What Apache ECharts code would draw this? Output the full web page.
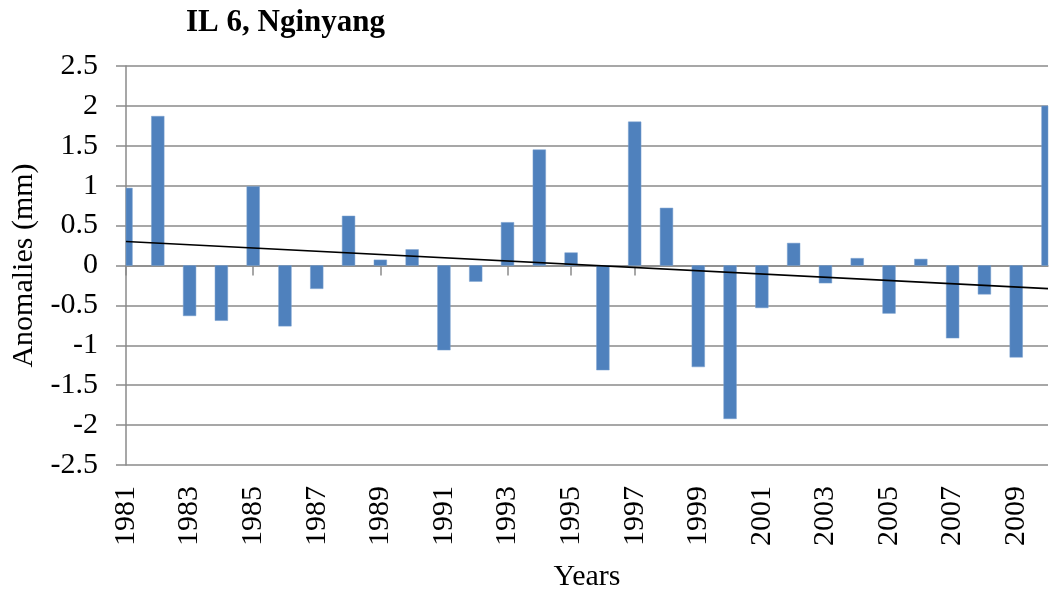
<!DOCTYPE html>
<html>
<head>
<meta charset="utf-8">
<script src="https://cdn.jsdelivr.net/npm/echarts@6/dist/echarts.min.js"></script>
<style>
  html, body { margin: 0; padding: 0; background: #fff; }
  #chart { width: 1056px; height: 594px; }
</style>
</head>
<body>
<div id="chart"></div>
<script>
const years = ['1981','1982','1983','1984','1985','1986','1987','1988','1989','1990',
  '1991','1992','1993','1994','1995','1996','1997','1998','1999','2000',
  '2001','2002','2003','2004','2005','2006','2007','2008','2009','2010']
const anomalies = [0.97, 1.87, -0.63, -0.69, 0.99, -0.76, -0.29, 0.62, 0.07, 0.20,
  -1.06, -0.20, 0.54, 1.45, 0.16, -1.31, 1.80, 0.72, -1.27, -1.92,
  -0.53, 0.28, -0.22, 0.09, -0.60, 0.08, -0.91, -0.36, -1.15, 2.00]
// linear trend, read at both ends
const trendEnds = [['1981', 0.30], ['2010', -0.29]]
const yTicks = [-2.5, 2.5, 0.5]

const FONT = "'Liberation Serif', 'Times New Roman', serif"
const GRAY = '#8a8a8a'
const BAR_W = 12.7

// bars sit on the tick marks, so the first and last one get cut at the plot edge
function renderBar(params, api) {
  const base = api.coord([api.value(0), 0])
  const tip = api.coord([api.value(0), api.value(1)])
  const rect = {
    x: base[0] - BAR_W / 2,
    y: Math.min(base[1], tip[1]),
    width: BAR_W,
    height: Math.abs(base[1] - tip[1])
  }
  const cs = params.coordSys
  const shape = echarts.graphic.clipRectByRect(rect, { x: cs.x, y: cs.y, width: cs.width, height: cs.height })
  return shape && { type: 'rect', shape, style: api.style() }
}

const chart = echarts.init(document.getElementById('chart'))
chart.setOption({
  animation: false,
  title: {
    text: 'IL 6, Nginyang',
    left: 181, top: 2,
    textStyle: { fontFamily: FONT, fontSize: 31, fontWeight: 'bold', color: '#000' }
  },
  grid: { left: 126, right: 8, top: 66, bottom: 129, containLabel: false, outerBoundsMode: 'none' },
  xAxis: [{
    type: 'category',
    data: years,
    boundaryGap: false,
    position: 'bottom',
    axisLine: { show: false, onZero: false },
    axisTick: { show: false },
    axisLabel: {
      interval: 1, rotate: 90, margin: 21,
      fontFamily: FONT, fontSize: 30, color: '#000'
    },
    name: 'Years',
    nameLocation: 'middle',
    nameGap: 97,
    nameTextStyle: { fontFamily: FONT, fontSize: 30, color: '#000' }
  }, {
    type: 'category',
    data: years,
    boundaryGap: false,
    position: 'bottom',
    axisLine: { show: true, onZero: true, lineStyle: { color: GRAY, width: 1.5 } },
    axisTick: { show: true, interval: 1, length: 10, lineStyle: { color: GRAY, width: 1.5 } },
    axisLabel: { show: false }
  }],
  yAxis: {
    type: 'value',
    min: yTicks[0], max: yTicks[1], interval: yTicks[2],
    axisLine: { show: true, lineStyle: { color: GRAY, width: 1.5 } },
    axisTick: { show: true, length: 10, lineStyle: { color: GRAY, width: 1.5 } },
    axisLabel: { margin: 28, fontFamily: FONT, fontSize: 30, color: '#000' },
    splitLine: { show: true, lineStyle: { color: GRAY, width: 1.5 } },
    name: 'Anomalies (mm)',
    nameLocation: 'middle',
    nameRotate: 90,
    nameGap: 85,
    nameTextStyle: { fontFamily: FONT, fontSize: 30, color: '#000' }
  },
  series: [{
    type: 'custom',
    xAxisIndex: 0,
    renderItem: renderBar,
    encode: { x: 0, y: 1 },
    data: years.map((y, i) => [y, anomalies[i]]),
    itemStyle: { color: '#4F81BD', borderColor: '#7aa0cf', borderWidth: 0.5 }
  }, {
    type: 'line',
    xAxisIndex: 0,
    data: trendEnds,
    symbol: 'none',
    lineStyle: { color: '#000', width: 1.6 }
  }]
})
</script>
</body>
</html>
